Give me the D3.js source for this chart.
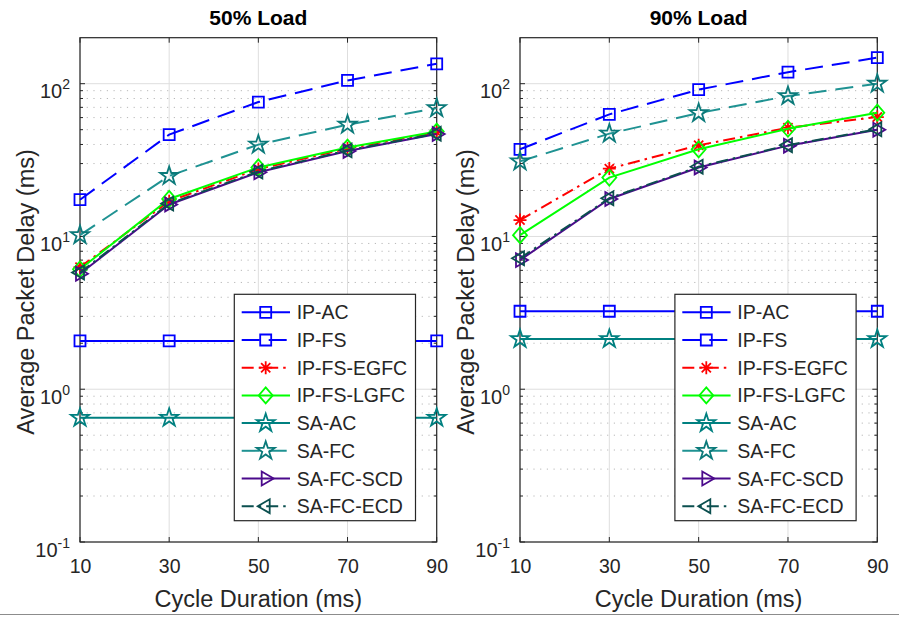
<!DOCTYPE html>
<html>
<head>
<meta charset="utf-8">
<script src="https://cdn.jsdelivr.net/npm/d3@7"></script>
<style>
  html, body { margin: 0; padding: 0; background: #ffffff; }
  svg { display: block; font-family: "Liberation Sans", Arial, Helvetica, sans-serif; }
</style>
</head>
<body>
<svg id="chart" width="899" height="617"></svg>
<script>
// Cycle durations on the x axis (ms)
const cycles = [10, 30, 50, 70, 90];
const xTicks = [10, 30, 50, 70, 90];
const yTickExponents = [-1, 0, 1, 2];

const seriesNames = ["IP-AC", "IP-FS", "IP-FS-EGFC", "IP-FS-LGFC", "SA-AC", "SA-FC", "SA-FC-SCD", "SA-FC-ECD"];

// Average packet delay (ms) at 50% load
const ipAc50   = [2.07, 2.07, 2.07, 2.07, 2.07];
const ipFs50   = [17.4, 46.4, 75.8, 105, 135];
const egfc50   = [6.3, 17.0, 27.6, 37.6, 48.0];
const lgfc50   = [6.1, 17.6, 28.3, 38.2, 48.6];
const saAc50   = [0.65, 0.65, 0.65, 0.65, 0.65];
const saFc50   = [10.2, 24.9, 39.9, 53.9, 69.2];
const scd50    = [5.7, 16.2, 26.3, 36.3, 46.8];
const ecd50    = [5.8, 16.4, 26.6, 36.6, 47.1];

// Average packet delay (ms) at 90% load
const ipAc90   = [3.24, 3.24, 3.24, 3.24, 3.24];
const ipFs90   = [37.2, 63, 91.4, 119, 148];
const egfc90   = [12.8, 27.8, 39.5, 51.5, 60.5];
const lgfc90   = [10.2, 24.3, 37.2, 50.7, 64.6];
const saAc90   = [2.13, 2.13, 2.13, 2.13, 2.13];
const saFc90   = [31, 47.1, 64.2, 83, 100];
const scd90    = [7.0, 17.6, 28.3, 39.3, 50.0];
const ecd90    = [7.2, 17.8, 28.6, 39.6, 50.3];

const panelTitles = ["50% Load", "90% Load"];
const xLabel = "Cycle Duration (ms)";
const yLabel = "Average Packet Delay (ms)";

// Visual style for each series (same order as seriesNames)
const styles = [
  { color: "#0000ff", dash: null,          marker: "square" },
  { color: "#0000ff", dash: "18,9",        marker: "square" },
  { color: "#ff0000", dash: "12,5,2.5,5",  marker: "asterisk" },
  { color: "#00ff00", dash: null,          marker: "diamond" },
  { color: "#008080", dash: null,          marker: "star" },
  { color: "#1f9292", dash: "18,9",        marker: "star", markerColor: "#0b7a7a" },
  { color: "#4b0a8c", dash: null,          marker: "triRight" },
  { color: "#0b4f4f", dash: "12,5,2.5,5",  marker: "triLeft" }
];

const panels = [
  { x0: 80,  x1: 436.7, data: [ipAc50, ipFs50, egfc50, lgfc50, saAc50, saFc50, scd50, ecd50] },
  { x0: 520, x1: 877.3, data: [ipAc90, ipFs90, egfc90, lgfc90, saAc90, saFc90, scd90, ecd90] }
];
const yTop = 37.7, yBottom = 542;
const axisColor = "#262626";

const svg = d3.select("#chart");

function markerPath(type) {
  const p = d3.path();
  if (type === "square") {
    const h = 5.5;
    p.rect(-h, -h, 2 * h, 2 * h);
  } else if (type === "diamond") {
    const w = 7, hh = 8;
    p.moveTo(0, -hh); p.lineTo(w, 0); p.lineTo(0, hh); p.lineTo(-w, 0); p.closePath();
  } else if (type === "star") {
    const R = 9.5, r = R * 0.382;
    for (let i = 0; i < 10; i++) {
      const rad = i % 2 === 0 ? R : r;
      const a = -Math.PI / 2 + i * Math.PI / 5;
      const x = rad * Math.cos(a), y = rad * Math.sin(a);
      if (i === 0) p.moveTo(x, y); else p.lineTo(x, y);
    }
    p.closePath();
  } else if (type === "triRight") {
    const R = 8;
    p.moveTo(R, 0); p.lineTo(-R / 2, -R * 0.866); p.lineTo(-R / 2, R * 0.866); p.closePath();
  } else if (type === "triLeft") {
    const R = 8;
    p.moveTo(-R, 0); p.lineTo(R / 2, -R * 0.866); p.lineTo(R / 2, R * 0.866); p.closePath();
  } else if (type === "asterisk") {
    const a = 6.5, d = a * 0.707;
    p.moveTo(-a, 0); p.lineTo(a, 0);
    p.moveTo(0, -a); p.lineTo(0, a);
    p.moveTo(-d, -d); p.lineTo(d, d);
    p.moveTo(-d, d); p.lineTo(d, -d);
  }
  return p.toString();
}

panels.forEach((panel, pi) => {
  const x = d3.scaleLinear().domain([10, 90]).range([panel.x0, panel.x1]);
  const y = d3.scaleLog().domain([0.1, 200]).range([yBottom, yTop]);
  const g = svg.append("g");

  // Minor grid (dotted) at 2..9 x each decade
  const minorVals = [];
  for (let e = -1; e <= 2; e++) {
    for (let m = 2; m <= 9; m++) {
      const v = m * Math.pow(10, e);
      if (v < 200) minorVals.push(v);
    }
  }
  g.append("g").selectAll("line").data(minorVals).join("line")
    .attr("x1", panel.x0).attr("x2", panel.x1)
    .attr("y1", d => y(d)).attr("y2", d => y(d))
    .attr("stroke", "#b8b8b8").attr("stroke-width", 1)
    .attr("stroke-dasharray", "1.2,5.5");

  // Major grid
  g.append("g").selectAll("line").data(yTickExponents).join("line")
    .attr("x1", panel.x0).attr("x2", panel.x1)
    .attr("y1", d => y(Math.pow(10, d))).attr("y2", d => y(Math.pow(10, d)))
    .attr("stroke", "#dedede").attr("stroke-width", 1);
  g.append("g").selectAll("line").data(xTicks).join("line")
    .attr("x1", d => x(d)).attr("x2", d => x(d))
    .attr("y1", yTop).attr("y2", yBottom)
    .attr("stroke", "#dedede").attr("stroke-width", 1);

  // Axes via d3 axis generators, ticks pointing inward
  const xAxisB = d3.axisBottom(x).tickValues(xTicks).tickSize(0).tickPadding(17).tickFormat(d3.format("d"));
  const gx = g.append("g").attr("transform", `translate(0,${yBottom})`).call(xAxisB);
  gx.select(".domain").remove();
  gx.selectAll("text").attr("font-size", 19.5).attr("fill", axisColor)
    .attr("font-family", "Liberation Sans, Arial, sans-serif");

  const yAxisL = d3.axisLeft(y).tickValues(yTickExponents.map(e => Math.pow(10, e))).tickSize(0).tickFormat("");
  const gy = g.append("g").attr("transform", `translate(${panel.x0},0)`).call(yAxisL);
  gy.select(".domain").remove();
  gy.selectAll(".tick").each(function (d) {
    const e = Math.round(Math.log10(d));
    const t = d3.select(this).append("text")
      .attr("x", -10).attr("y", 14).attr("text-anchor", "end")
      .attr("fill", axisColor).attr("font-size", 20)
      .attr("font-family", "Liberation Sans, Arial, sans-serif");
    t.append("tspan").text("10");
    t.append("tspan").attr("dy", -9).attr("font-size", 14).text(String(e));
  });

  // Tick marks on all four sides
  const tickG = g.append("g").attr("stroke", axisColor).attr("stroke-width", 1);
  xTicks.forEach(v => {
    tickG.append("line").attr("x1", x(v)).attr("x2", x(v)).attr("y1", yBottom).attr("y2", yBottom - 5);
    tickG.append("line").attr("x1", x(v)).attr("x2", x(v)).attr("y1", yTop).attr("y2", yTop + 5);
  });
  yTickExponents.forEach(e => {
    const yy = y(Math.pow(10, e));
    tickG.append("line").attr("x1", panel.x0).attr("x2", panel.x0 + 5).attr("y1", yy).attr("y2", yy);
    tickG.append("line").attr("x1", panel.x1).attr("x2", panel.x1 - 5).attr("y1", yy).attr("y2", yy);
  });
  minorVals.forEach(v => {
    const yy = y(v);
    tickG.append("line").attr("x1", panel.x0).attr("x2", panel.x0 + 3).attr("y1", yy).attr("y2", yy);
    tickG.append("line").attr("x1", panel.x1).attr("x2", panel.x1 - 3).attr("y1", yy).attr("y2", yy);
  });

  // Axes box
  g.append("rect")
    .attr("x", panel.x0).attr("y", yTop)
    .attr("width", panel.x1 - panel.x0).attr("height", yBottom - yTop)
    .attr("fill", "none").attr("stroke", axisColor).attr("stroke-width", 1.2);

  // Series lines and markers
  const line = d3.line().x(d => x(d[0])).y(d => y(d[1]));
  panel.data.forEach((vals, si) => {
    const st = styles[si];
    const pts = cycles.map((c, i) => [c, vals[i]]);
    const sg = g.append("g");
    sg.append("path").datum(pts)
      .attr("d", line)
      .attr("fill", "none")
      .attr("stroke", st.color).attr("stroke-width", 2)
      .attr("stroke-dasharray", st.dash);
    sg.selectAll("path.mk").data(pts).join("path")
      .attr("class", "mk")
      .attr("transform", d => `translate(${x(d[0])},${y(d[1])})`)
      .attr("d", markerPath(st.marker))
      .attr("fill", "none")
      .attr("stroke", st.markerColor || st.color)
      .attr("stroke-width", 1.8);
  });

  // Title
  g.append("text")
    .attr("x", (panel.x0 + panel.x1) / 2).attr("y", 25)
    .attr("text-anchor", "middle").attr("font-weight", "bold")
    .attr("font-size", 21).attr("fill", "#000")
    .text(panelTitles[pi]);

  // Axis labels
  g.append("text")
    .attr("x", (panel.x0 + panel.x1) / 2).attr("y", 607)
    .attr("text-anchor", "middle").attr("font-size", 23.5).attr("fill", axisColor)
    .text(xLabel);
  g.append("text")
    .attr("transform", `translate(${panel.x0 - 46},292) rotate(-90)`)
    .attr("text-anchor", "middle").attr("font-size", 23.5).attr("fill", axisColor)
    .text(yLabel);

  // Legend
  const lx = panel.x1 - 202.4, ly = 294.3, lw = 181.2, lh = 226.4, rowH = 27.7;
  const lg = g.append("g");
  lg.append("rect").attr("x", lx).attr("y", ly).attr("width", lw).attr("height", lh)
    .attr("fill", "#ffffff").attr("stroke", axisColor).attr("stroke-width", 1.2);
  seriesNames.forEach((name, si) => {
    const st = styles[si];
    const cy = ly + 18 + si * rowH;
    lg.append("line")
      .attr("x1", lx + 7.4).attr("x2", lx + 55.7).attr("y1", cy).attr("y2", cy)
      .attr("stroke", st.color).attr("stroke-width", 2)
      .attr("stroke-dasharray", st.dash);
    lg.append("path")
      .attr("transform", `translate(${lx + 31.4},${cy})`)
      .attr("d", markerPath(st.marker))
      .attr("fill", "none").attr("stroke", st.markerColor || st.color).attr("stroke-width", 1.8);
    lg.append("text")
      .attr("x", lx + 62.4).attr("y", cy + 7)
      .attr("font-size", 19.5).attr("fill", axisColor)
      .text(name);
  });
});

// Thin rule along the bottom edge
svg.append("line").attr("x1", 0).attr("x2", 899).attr("y1", 614.5).attr("y2", 614.5)
  .attr("stroke", "#8c8c8c").attr("stroke-width", 1);
</script>
</body>
</html>
